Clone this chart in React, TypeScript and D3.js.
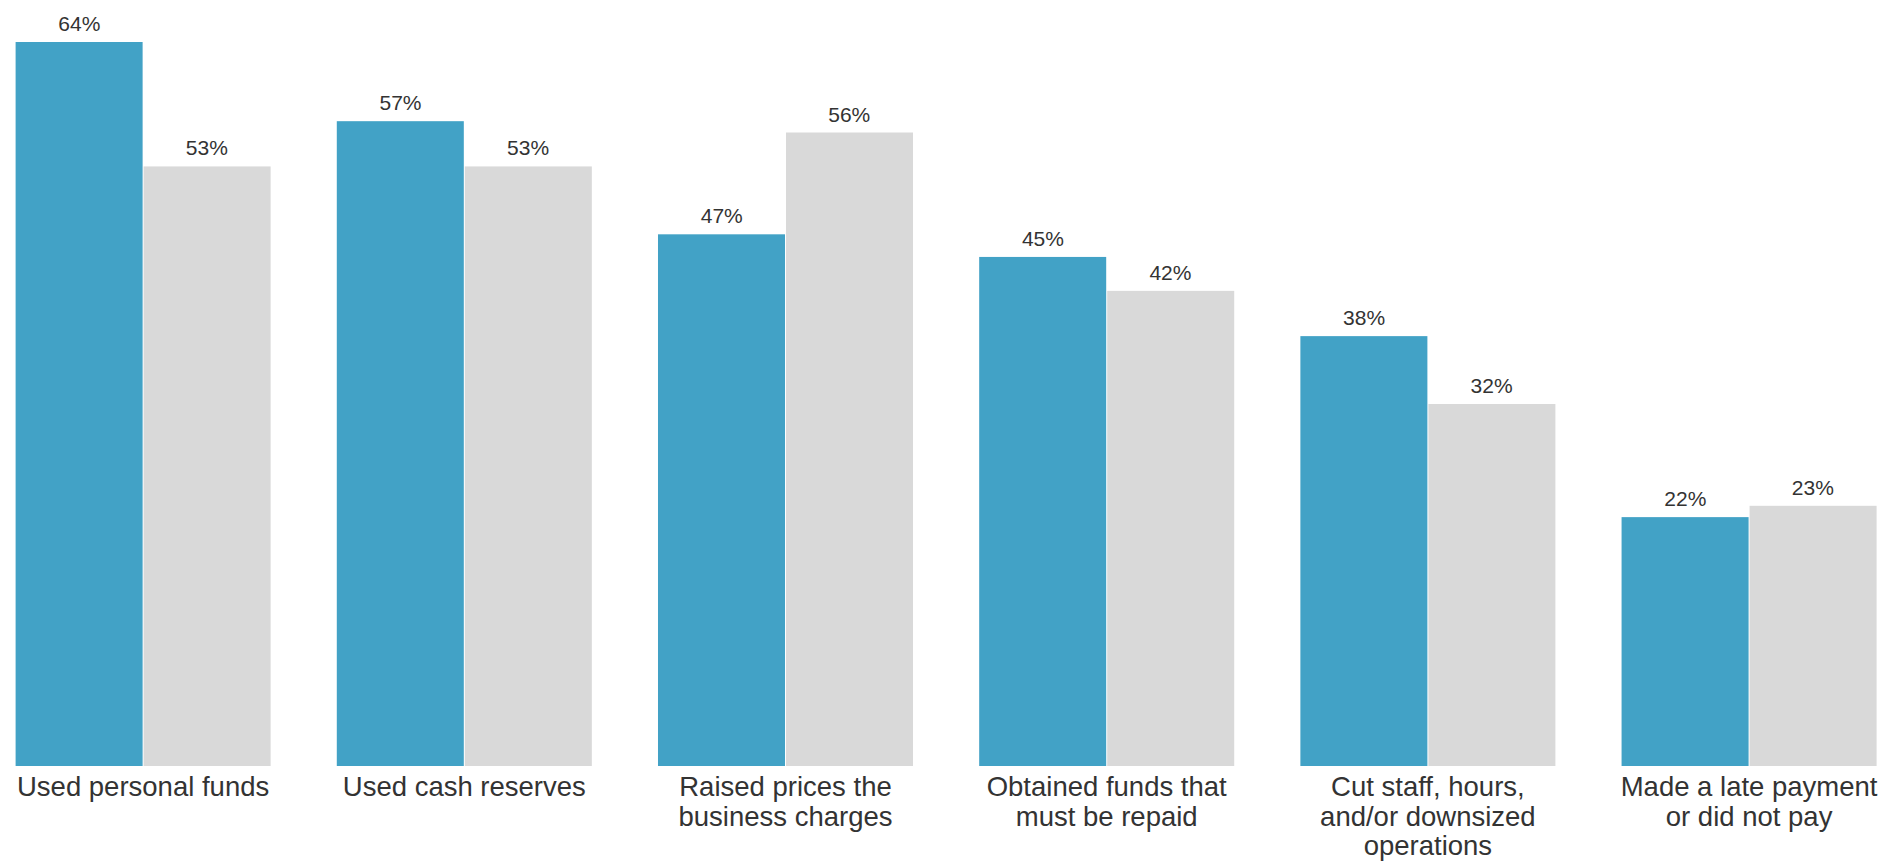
import React from "react";
import * as d3 from "d3";

const categories: string[][] = [
  ["Used personal funds"],
  ["Used cash reserves"],
  ["Raised prices the", "business charges"],
  ["Obtained funds that", "must be repaid"],
  ["Cut staff, hours,", "and/or downsized", "operations"],
  ["Made a late payment", "or did not pay"],
];
const seriesA: number[] = [64, 57, 47, 45, 38, 22];
const seriesB: number[] = [53, 53, 56, 42, 32, 23];
const seriesKeys = ["A", "B"];
const seriesColors = ["#42a2c6", "#d9d9d9"];

const W = 1885;
const H = 861;

export default function App() {
  const x = d3
    .scaleBand<number>()
    .domain(d3.range(categories.length))
    .range([15.6, 1876.6])
    .paddingInner(0.206)
    .paddingOuter(0);
  const xs = d3.scaleBand<string>().domain(seriesKeys).range([0, x.bandwidth()]).padding(0);
  const y = d3.scaleLinear().domain([0, 64]).range([766, 42]);
  const series = [seriesA, seriesB];
  const font = "'Liberation Sans', Arial, Helvetica, sans-serif";

  return (
    <svg
      width={W}
      height={H}
      style={{ position: "absolute", left: 0, top: 0, background: "#fff" }}
      fontFamily={font}
    >
      {categories.map((cat, i) => (
        <g key={i} transform={`translate(${x(i)},0)`}>
          {seriesKeys.map((k, s) => {
            const v = series[s][i];
            const bx = xs(k)!;
            const bw = xs.bandwidth();
            return (
              <g key={k}>
                <rect
                  x={bx + (s === 1 ? 0.5 : 0)}
                  y={y(v)}
                  width={bw - 0.5}
                  height={y(0) - y(v)}
                  fill={seriesColors[s]}
                />
                <text
                  x={bx + bw / 2}
                  y={y(v) - 11}
                  textAnchor="middle"
                  fontSize={21}
                  fill="#333"
                >
                  {v}%
                </text>
              </g>
            );
          })}
          <text
            x={x.bandwidth() / 2}
            y={796}
            textAnchor="middle"
            fontSize={27.5}
            fill="#333"
          >
            {cat.map((line, j) => (
              <tspan key={j} x={x.bandwidth() / 2} dy={j === 0 ? 0 : 29.5}>
                {line}
              </tspan>
            ))}
          </text>
        </g>
      ))}
    </svg>
  );
}
